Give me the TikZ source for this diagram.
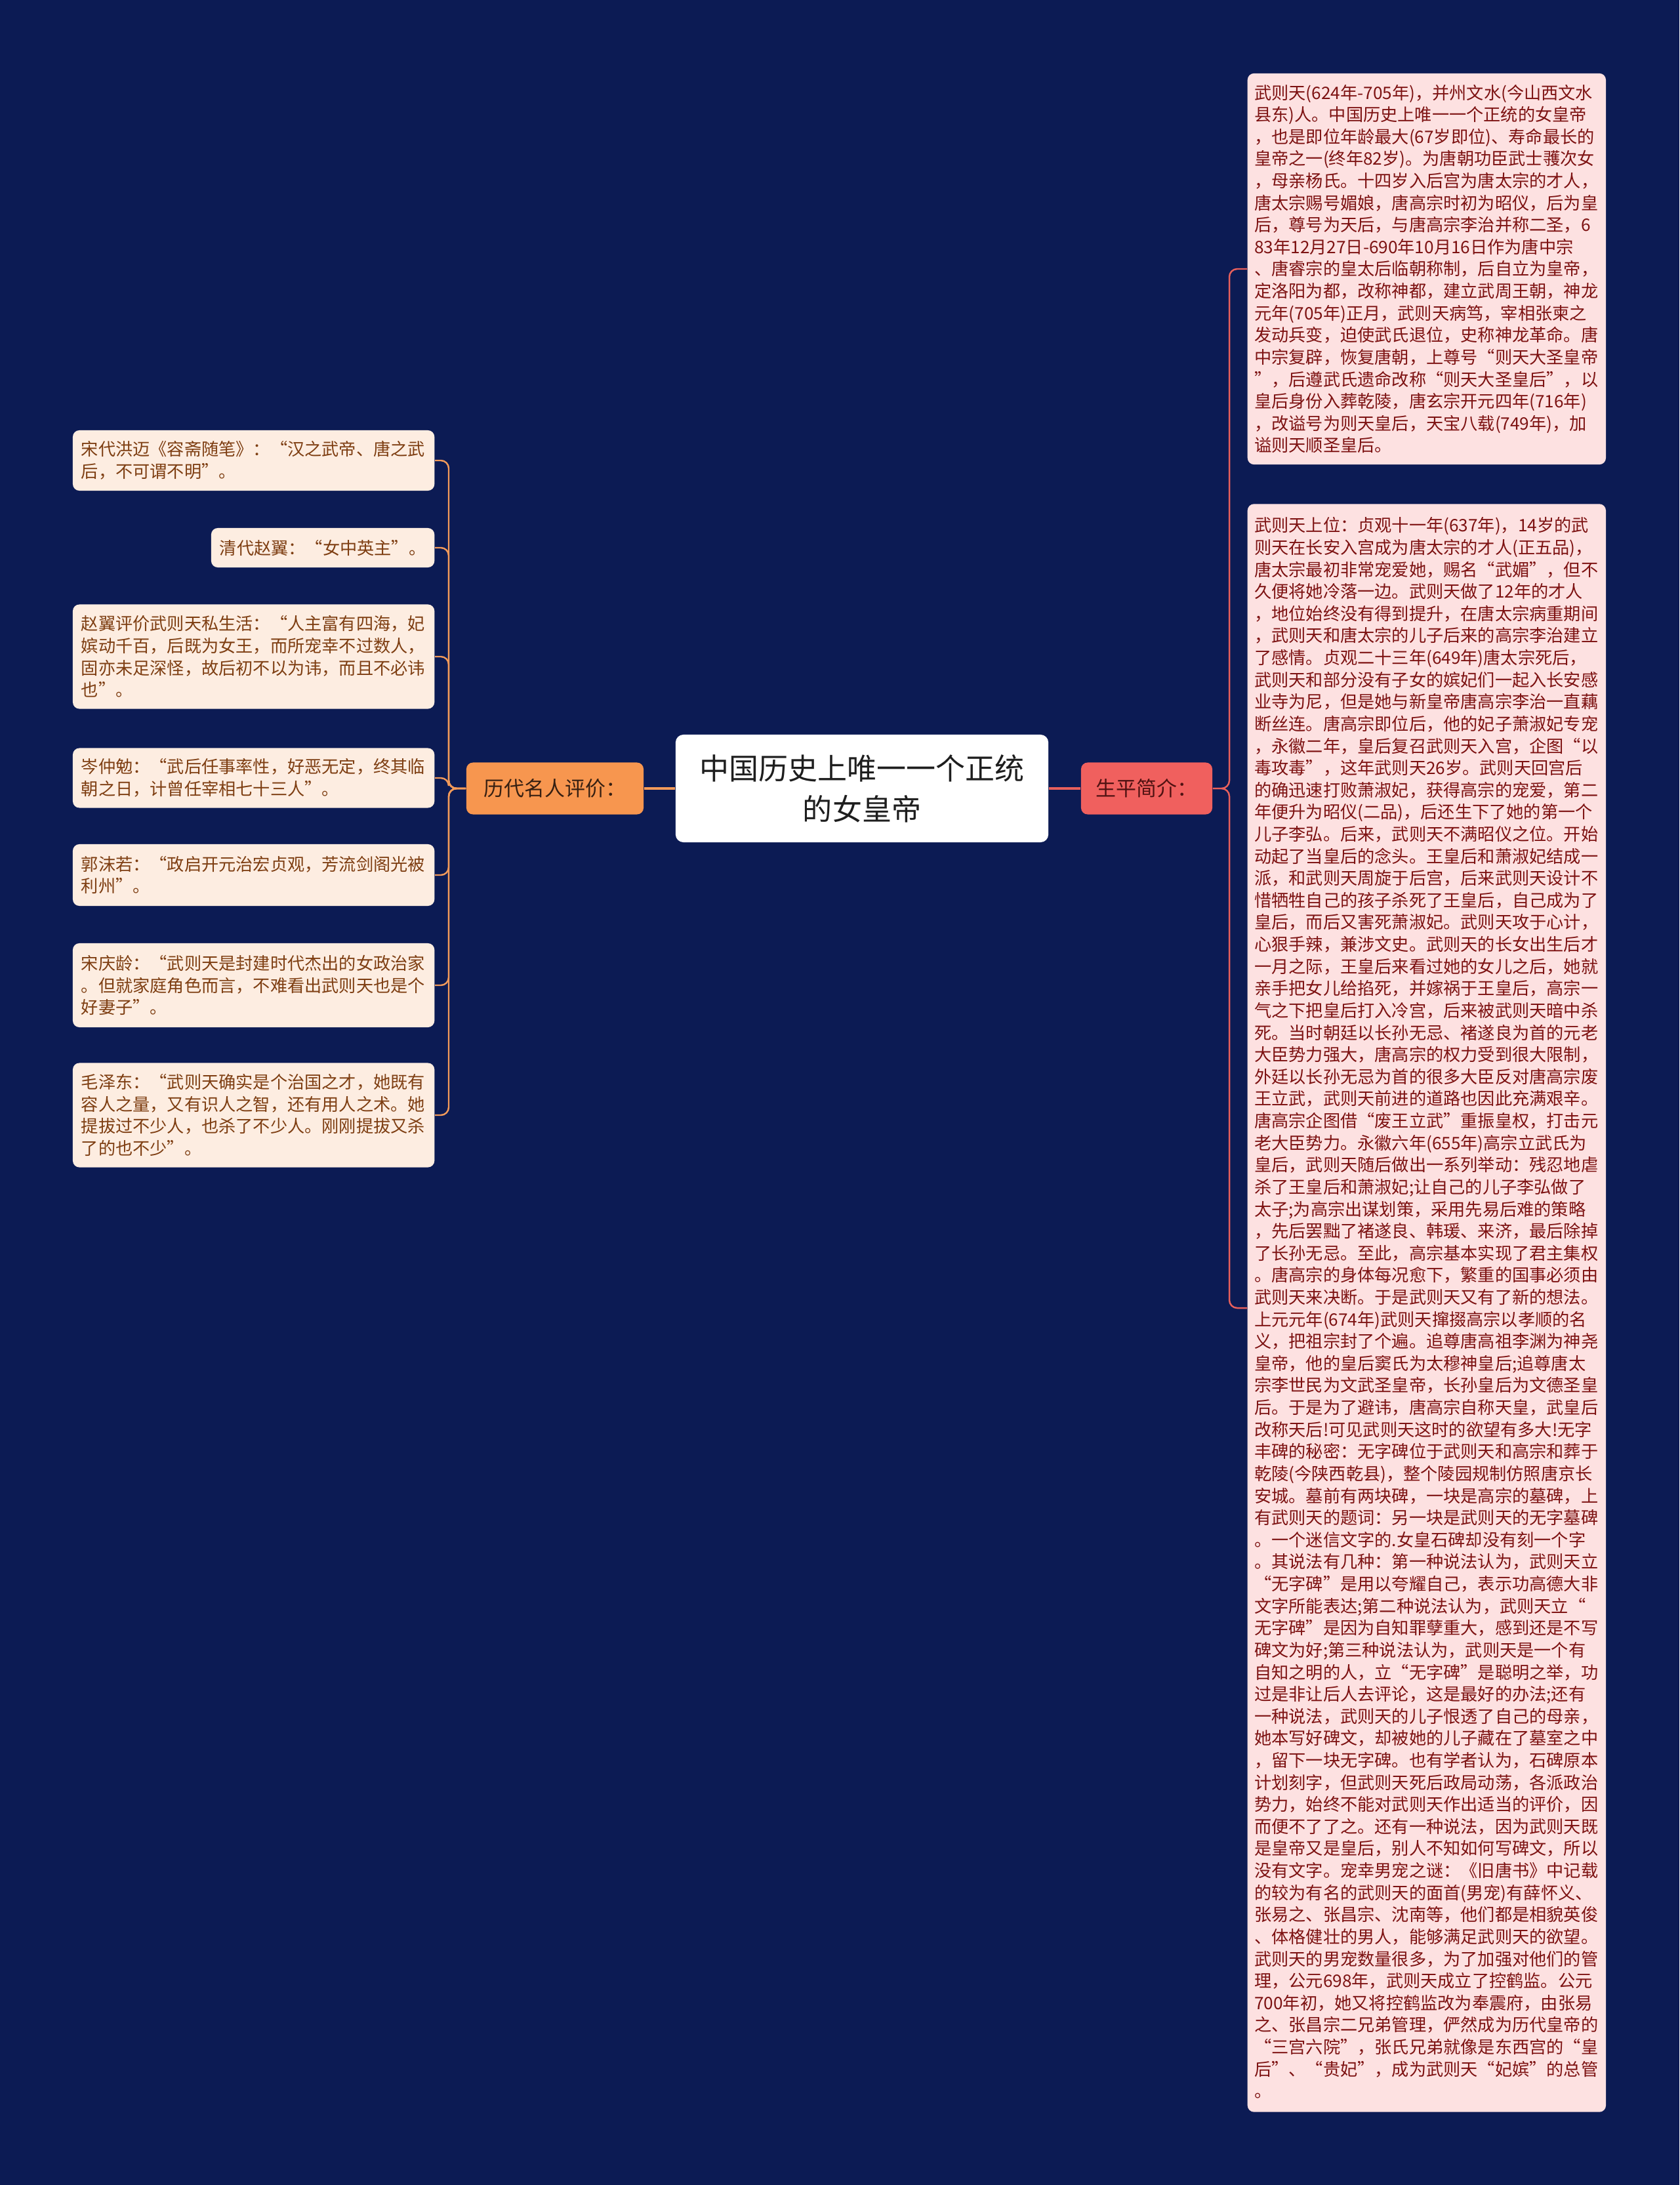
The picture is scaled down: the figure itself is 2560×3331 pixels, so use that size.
\documentclass[tikz,border=0pt]{standalone}
\usepackage{fontspec}
\setmainfont{Noto Sans CJK SC}

\definecolor{bgnavy}{HTML}{0C1B54}
\definecolor{leaffill}{HTML}{FDEDE1}
\definecolor{leaftext}{HTML}{7E3E12}
\definecolor{boxfill}{HTML}{FDE1E1}
\definecolor{boxtext}{HTML}{7D1212}
\definecolor{histfill}{HTML}{F7964F}
\definecolor{lifefill}{HTML}{F0605E}
\definecolor{histline}{HTML}{F29A5A}
\definecolor{lifeline}{HTML}{E8605C}

\begin{document}
\begin{tikzpicture}[x=0.01cm, y=-0.01cm,
  leaf/.style={rectangle, rounded corners=0.1cm, fill=leaffill, text=leaftext,
    font=\fontsize{7.45pt}{9.56pt}\selectfont, align=left,
    inner xsep=0.13cm, inner ysep=0.05cm},
  bio/.style={rectangle, rounded corners=0.1cm, fill=boxfill, text=boxtext,
    font=\fontsize{7.45pt}{9.56pt}\selectfont, align=left, text width=5.25cm,
    inner xsep=0.105cm, inner ysep=0.05cm},
  topic/.style={rectangle, rounded corners=0.1cm, minimum height=0.79cm,
    font=\fontsize{8.8pt}{10pt}\selectfont, inner sep=0pt},
  hline/.style={histline, line width=0.7pt, rounded corners=0.12cm},
  lline/.style={lifeline, line width=0.7pt, rounded corners=0.12cm}]
  \fill[bgnavy] (0,0) rectangle (2560,3331);
  \useasboundingbox (0,0) rectangle (2560,3331);

  \node[rectangle, rounded corners=0.12cm, fill=white, text={rgb,255:red,30;green,30;blue,30},
    minimum width=5.68cm, minimum height=1.64cm, align=center,
    font=\fontsize{12.8pt}{17.6pt}\selectfont] (root) at (1314,1202)
    {中国历史上唯一一个正统\\的女皇帝};
  \node[topic, fill=histfill, text={rgb,255:red,55;green,32;blue,18}, minimum width=2.70cm]
    (hist) at (846,1202) {历代名人评价：};
  \node[topic, fill=lifefill, text={rgb,255:red,80;green,18;blue,18}, minimum width=2.00cm]
    (life) at (1748,1202) {生平简介：};

  \draw[histline, line width=1.1pt] (root.west) -- (hist.east);
  \draw[lifeline, line width=1.1pt] (root.east) -- (life.west);

  % left: quotes
  \node[leaf, text width=5.25cm, anchor=east, minimum height=0.92cm] (h1) at (663,702)
    {宋代洪迈《容斋随笔》：“汉之武帝、唐之武\\
     后，不可谓不明”。};
  \node[leaf, anchor=east, minimum height=0.60cm] (h2) at (663,835)
    {清代赵翼：“女中英主”。};
  \node[leaf, text width=5.25cm, anchor=east, minimum height=1.59cm] (h3) at (663,1001)
    {赵翼评价武则天私生活：“人主富有四海，妃\\
     嫔动千百，后既为女王，而所宠幸不过数人，\\
     固亦未足深怪，故后初不以为讳，而且不必讳\\
     也”。};
  \node[leaf, text width=5.25cm, anchor=east, minimum height=0.91cm] (h4) at (663,1186)
    {岑仲勉：“武后任事率性，好恶无定，终其临\\
     朝之日，计曾任宰相七十三人”。};
  \node[leaf, text width=5.25cm, anchor=east, minimum height=0.94cm] (h5) at (663,1334)
    {郭沫若：“政启开元治宏贞观，芳流剑阁光被\\
     利州”。};
  \node[leaf, text width=5.25cm, anchor=east, minimum height=1.28cm] (h6) at (663,1502)
    {宋庆龄：“武则天是封建时代杰出的女政治家\\
     。但就家庭角色而言，不难看出武则天也是个\\
     好妻子”。};
  \node[leaf, text width=5.25cm, anchor=east, minimum height=1.59cm] (h7) at (663,1700)
    {毛泽东：“武则天确实是个治国之才，她既有\\
     容人之量，又有识人之智，还有用人之术。她\\
     提拔过不少人，也杀了不少人。刚刚提拔又杀\\
     了的也不少”。};

  \coordinate (hj) at (684,1202);
  \foreach \n in {h1,h2,h3,h4,h5,h6,h7}
    \draw[hline] (hist.west) -- (hj) |- (\n.east);

  % right: life
  \node[bio, anchor=west, minimum height=5.96cm] (b1) at (1901,410)
    {武则天(624年-705年)，并州文水(今山西文水\\
     县东)人。中国历史上唯一一个正统的女皇帝\\
     ，也是即位年龄最大(67岁即位)、寿命最长的\\
     皇帝之一(终年82岁)。为唐朝功臣武士彟次女\\
     ，母亲杨氏。十四岁入后宫为唐太宗的才人，\\
     唐太宗赐号媚娘，唐高宗时初为昭仪，后为皇\\
     后，尊号为天后，与唐高宗李治并称二圣，6\\
     83年12月27日-690年10月16日作为唐中宗\\
     、唐睿宗的皇太后临朝称制，后自立为皇帝，\\
     定洛阳为都，改称神都，建立武周王朝，神龙\\
     元年(705年)正月，武则天病笃，宰相张柬之\\
     发动兵变，迫使武氏退位，史称神龙革命。唐\\
     中宗复辟，恢复唐朝，上尊号“则天大圣皇帝\\
     ”，后遵武氏遗命改称“则天大圣皇后”，以\\
     皇后身份入葬乾陵，唐玄宗开元四年(716年)\\
     ，改谥号为则天皇后，天宝八载(749年)，加\\
     谥则天顺圣皇后。};
  \node[bio, anchor=west, minimum height=24.50cm] (b2) at (1901,1994)
    {武则天上位：贞观十一年(637年)，14岁的武\\
     则天在长安入宫成为唐太宗的才人(正五品)，\\
     唐太宗最初非常宠爱她，赐名“武媚”，但不\\
     久便将她冷落一边。武则天做了12年的才人\\
     ，地位始终没有得到提升，在唐太宗病重期间\\
     ，武则天和唐太宗的儿子后来的高宗李治建立\\
     了感情。贞观二十三年(649年)唐太宗死后，\\
     武则天和部分没有子女的嫔妃们一起入长安感\\
     业寺为尼，但是她与新皇帝唐高宗李治一直藕\\
     断丝连。唐高宗即位后，他的妃子萧淑妃专宠\\
     ，永徽二年，皇后复召武则天入宫，企图“以\\
     毒攻毒”，这年武则天26岁。武则天回宫后\\
     的确迅速打败萧淑妃，获得高宗的宠爱，第二\\
     年便升为昭仪(二品)，后还生下了她的第一个\\
     儿子李弘。后来，武则天不满昭仪之位。开始\\
     动起了当皇后的念头。王皇后和萧淑妃结成一\\
     派，和武则天周旋于后宫，后来武则天设计不\\
     惜牺牲自己的孩子杀死了王皇后，自己成为了\\
     皇后，而后又害死萧淑妃。武则天攻于心计，\\
     心狠手辣，兼涉文史。武则天的长女出生后才\\
     一月之际，王皇后来看过她的女儿之后，她就\\
     亲手把女儿给掐死，并嫁祸于王皇后，高宗一\\
     气之下把皇后打入冷宫，后来被武则天暗中杀\\
     死。当时朝廷以长孙无忌、褚遂良为首的元老\\
     大臣势力强大，唐高宗的权力受到很大限制，\\
     外廷以长孙无忌为首的很多大臣反对唐高宗废\\
     王立武，武则天前进的道路也因此充满艰辛。\\
     唐高宗企图借“废王立武”重振皇权，打击元\\
     老大臣势力。永徽六年(655年)高宗立武氏为\\
     皇后，武则天随后做出一系列举动：残忍地虐\\
     杀了王皇后和萧淑妃;让自己的儿子李弘做了\\
     太子;为高宗出谋划策，采用先易后难的策略\\
     ，先后罢黜了褚遂良、韩瑗、来济，最后除掉\\
     了长孙无忌。至此，高宗基本实现了君主集权\\
     。唐高宗的身体每况愈下，繁重的国事必须由\\
     武则天来决断。于是武则天又有了新的想法。\\
     上元元年(674年)武则天撺掇高宗以孝顺的名\\
     义，把祖宗封了个遍。追尊唐高祖李渊为神尧\\
     皇帝，他的皇后窦氏为太穆神皇后;追尊唐太\\
     宗李世民为文武圣皇帝，长孙皇后为文德圣皇\\
     后。于是为了避讳，唐高宗自称天皇，武皇后\\
     改称天后!可见武则天这时的欲望有多大!无字\\
     丰碑的秘密：无字碑位于武则天和高宗和葬于\\
     乾陵(今陕西乾县)，整个陵园规制仿照唐京长\\
     安城。墓前有两块碑，一块是高宗的墓碑，上\\
     有武则天的题词：另一块是武则天的无字墓碑\\
     。一个迷信文字的.女皇石碑却没有刻一个字\\
     。其说法有几种：第一种说法认为，武则天立\\
     “无字碑”是用以夸耀自己，表示功高德大非\\
     文字所能表达;第二种说法认为，武则天立“\\
     无字碑”是因为自知罪孽重大，感到还是不写\\
     碑文为好;第三种说法认为，武则天是一个有\\
     自知之明的人，立“无字碑”是聪明之举，功\\
     过是非让后人去评论，这是最好的办法;还有\\
     一种说法，武则天的儿子恨透了自己的母亲，\\
     她本写好碑文，却被她的儿子藏在了墓室之中\\
     ，留下一块无字碑。也有学者认为，石碑原本\\
     计划刻字，但武则天死后政局动荡，各派政治\\
     势力，始终不能对武则天作出适当的评价，因\\
     而便不了了之。还有一种说法，因为武则天既\\
     是皇帝又是皇后，别人不知如何写碑文，所以\\
     没有文字。宠幸男宠之谜：《旧唐书》中记载\\
     的较为有名的武则天的面首(男宠)有薛怀义、\\
     张易之、张昌宗、沈南等，他们都是相貌英俊\\
     、体格健壮的男人，能够满足武则天的欲望。\\
     武则天的男宠数量很多，为了加强对他们的管\\
     理，公元698年，武则天成立了控鹤监。公元\\
     700年初，她又将控鹤监改为奉震府，由张易\\
     之、张昌宗二兄弟管理，俨然成为历代皇帝的\\
     “三宫六院”，张氏兄弟就像是东西宫的“皇\\
     后”、“贵妃”，成为武则天“妃嫔”的总管\\
     。};

  \coordinate (lj) at (1874,1202);
  \foreach \n in {b1,b2}
    \draw[lline] (life.east) -- (lj) |- (\n.west);
\end{tikzpicture}
\end{document}
